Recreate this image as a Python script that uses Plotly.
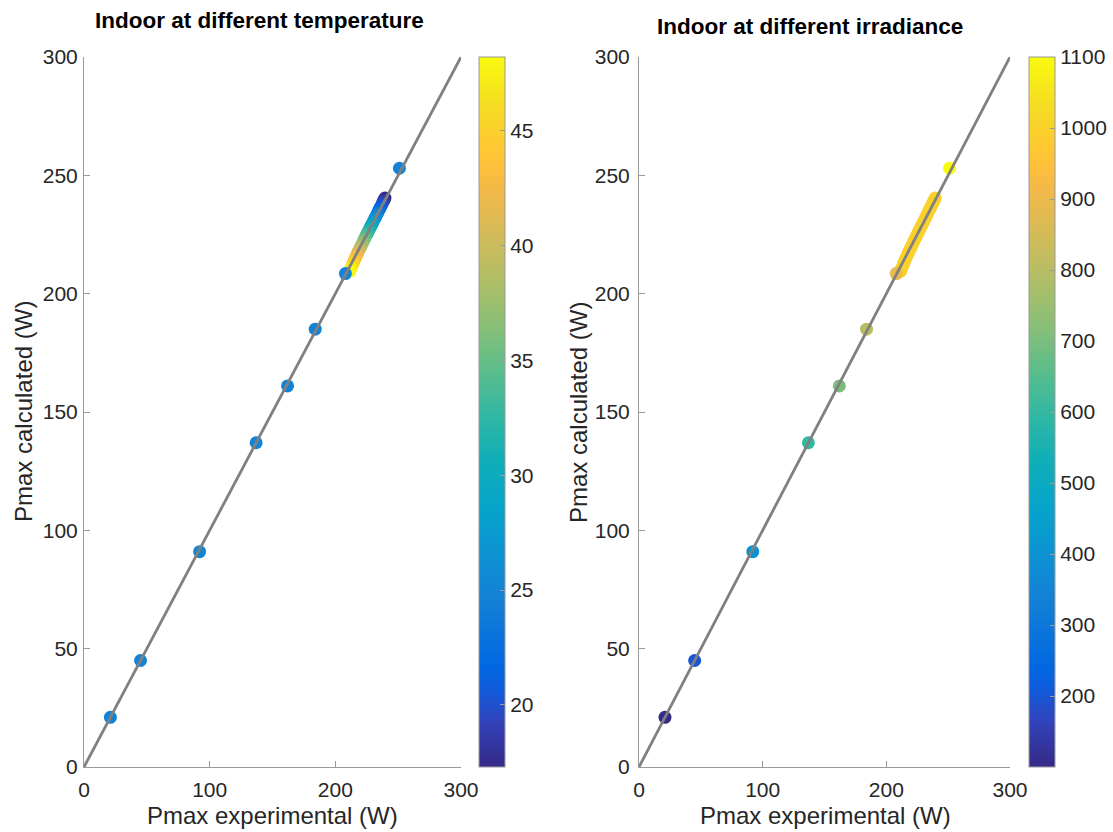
import plotly.graph_objects as go

# ---------------- data ----------------
# Irradiance sweep at 25 degC
irr_G = [100, 200, 400, 600, 700, 800, 900, 1100]
irr_T = [25, 25, 25, 25, 25, 25, 25, 25]
irr_Pexp = [21, 45, 92, 137, 162, 184, 208, 251]
irr_Pcalc = [21, 45, 91, 137, 161, 185, 208.5, 253]

# Temperature sweep at 1000 W/m2
temp_T = [17, 18, 19, 20, 21, 22, 23, 24, 25, 26, 27, 28, 29, 30, 31, 32,
          33, 34, 35, 36, 37, 38, 39, 40, 41, 42, 43, 44, 45, 46, 47, 48]
temp_G = [1000] * 32
temp_Pexp = [239.5, 238.7, 237.6, 236.9, 235.8, 235.0, 234.0, 233.3, 232.2, 231.5,
             230.4, 229.7, 228.6, 227.8, 226.9, 225.9, 225.1, 224.0, 223.2, 222.1,
             221.4, 220.3, 219.5, 218.5, 217.6, 216.8, 215.8, 215.0, 214.1, 213.3,
             212.4, 211.6]
temp_Pcalc = [240.4, 239.5, 238.4, 237.5, 236.5, 235.6, 234.6, 233.7, 232.6, 231.8,
              230.7, 229.9, 228.9, 228.0, 227.0, 226.0, 225.1, 224.0, 223.1, 222.0,
              221.1, 220.0, 219.0, 218.0, 217.0, 216.0, 215.0, 214.0, 212.9, 211.8,
              210.7, 209.5]

line_x = [0, 300]
line_y = [0, 300]

ticks_xy = [0, 100, 200, 300]
ticks_y = [0, 50, 100, 150, 200, 250, 300]
cb1_ticks = [20, 25, 30, 35, 40, 45]
cb2_ticks = [200, 300, 400, 500, 600, 700, 800, 900, 1000, 1100]

# ---------------- style ----------------
parula = [
    [0 / 63, "rgb(53,42,135)"],
    [4 / 63, "rgb(50,67,186)"],
    [7 / 63, "rgb(15,92,221)"],
    [9 / 63, "rgb(2,104,225)"],
    [15 / 63, "rgb(20,129,214)"],
    [19 / 63, "rgb(12,147,210)"],
    [23 / 63, "rgb(6,164,202)"],
    [27 / 63, "rgb(15,174,185)"],
    [31 / 63, "rgb(46,183,164)"],
    [35 / 63, "rgb(89,189,140)"],
    [39 / 63, "rgb(135,191,119)"],
    [43 / 63, "rgb(174,190,103)"],
    [47 / 63, "rgb(209,187,89)"],
    [51 / 63, "rgb(241,185,74)"],
    [53 / 63, "rgb(253,190,61)"],
    [55 / 63, "rgb(254,200,50)"],
    [59 / 63, "rgb(245,222,33)"],
    [63 / 63, "rgb(249,251,14)"],
]

W, H = 1113, 832
FONT = "Liberation Sans, Arial, sans-serif"
TXT = "#262626"
AX = "#9a9a9a"
MS = 13


def fx(px):
    return px / W


def fy(py):
    return 1 - py / H


ax1 = [fx(84), fx(461)]
ax2 = [fx(639), fx(1010)]
ydom = [fy(767), fy(57)]

fig = go.Figure()

# left subplot (temperature colour)
fig.add_trace(go.Scatter(x=temp_Pexp, y=temp_Pcalc, mode="markers",
                         marker=dict(size=MS, color=temp_T, coloraxis="coloraxis"),
                         xaxis="x", yaxis="y", showlegend=False))
fig.add_trace(go.Scatter(x=irr_Pexp, y=irr_Pcalc, mode="markers",
                         marker=dict(size=MS, color=irr_T, coloraxis="coloraxis"),
                         xaxis="x", yaxis="y", showlegend=False))
fig.add_trace(go.Scatter(x=line_x, y=line_y, mode="lines",
                         line=dict(color="#808080", width=2.8),
                         xaxis="x", yaxis="y", showlegend=False))

# right subplot (irradiance colour)
fig.add_trace(go.Scatter(x=temp_Pexp, y=temp_Pcalc, mode="markers",
                         marker=dict(size=MS, color=temp_G, coloraxis="coloraxis2"),
                         xaxis="x2", yaxis="y2", showlegend=False))
fig.add_trace(go.Scatter(x=irr_Pexp, y=irr_Pcalc, mode="markers",
                         marker=dict(size=MS, color=irr_G, coloraxis="coloraxis2"),
                         xaxis="x2", yaxis="y2", showlegend=False))
fig.add_trace(go.Scatter(x=line_x, y=line_y, mode="lines",
                         line=dict(color="#808080", width=2.8),
                         xaxis="x2", yaxis="y2", showlegend=False))

common_axis = dict(
    showgrid=False, zeroline=False, showline=True, linecolor=AX, linewidth=1,
    ticks="inside", ticklen=6, tickcolor=AX, mirror=False,
    tickfont=dict(family=FONT, size=21, color=TXT), automargin=False,
    range=[0, 300],
)

cb_common = dict(
    thickness=26, thicknessmode="pixels", len=(767 - 57) / H, lenmode="fraction",
    y=fy(767), yanchor="bottom", xanchor="left", outlinecolor=AX, outlinewidth=1,
    ticks="inside", ticklen=5, tickcolor=AX,
    tickfont=dict(family=FONT, size=21, color=TXT), xpad=0, ypad=0,
)

fig.update_layout(
    width=W, height=H,
    margin=dict(l=0, r=0, t=0, b=0),
    paper_bgcolor="white", plot_bgcolor="white",
    xaxis=dict(common_axis, domain=ax1, anchor="y", tickvals=ticks_xy, ticklabelstandoff=4),
    yaxis=dict(common_axis, domain=ydom, anchor="x", tickvals=ticks_y, ticklabelstandoff=1),
    xaxis2=dict(common_axis, domain=ax2, anchor="y2", tickvals=ticks_xy, ticklabelstandoff=4),
    yaxis2=dict(common_axis, domain=ydom, anchor="x2", tickvals=ticks_y, ticklabelstandoff=4),
    coloraxis=dict(colorscale=parula, cmin=17.3, cmax=48.2,
                   colorbar=dict(cb_common, x=fx(479), tickvals=cb1_ticks)),
    coloraxis2=dict(colorscale=parula, cmin=100, cmax=1100,
                    colorbar=dict(cb_common, x=fx(1029), tickvals=cb2_ticks)),
    annotations=[
        dict(text="<b>Indoor at different temperature</b>", x=fx(259), y=fy(20),
             xref="paper", yref="paper", showarrow=False, xanchor="center", yanchor="middle",
             font=dict(family=FONT, size=22.5, color="black")),
        dict(text="<b>Indoor at different irradiance</b>", x=fx(810), y=fy(26),
             xref="paper", yref="paper", showarrow=False, xanchor="center", yanchor="middle",
             font=dict(family=FONT, size=22.5, color="black")),
        dict(text="Pmax experimental (W)", x=fx(272), y=fy(815),
             xref="paper", yref="paper", showarrow=False, xanchor="center", yanchor="middle",
             font=dict(family=FONT, size=24, color=TXT)),
        dict(text="Pmax experimental (W)", x=fx(825), y=fy(815),
             xref="paper", yref="paper", showarrow=False, xanchor="center", yanchor="middle",
             font=dict(family=FONT, size=24, color=TXT)),
        dict(text="Pmax calculated (W)", x=fx(23), y=fy(412), textangle=-90,
             xref="paper", yref="paper", showarrow=False, xanchor="center", yanchor="middle",
             font=dict(family=FONT, size=24, color=TXT)),
        dict(text="Pmax calculated (W)", x=fx(578), y=fy(412), textangle=-90,
             xref="paper", yref="paper", showarrow=False, xanchor="center", yanchor="middle",
             font=dict(family=FONT, size=24, color=TXT)),
    ],
)

fig.write_html("out.html", config={"displayModeBar": False},
               post_script="document.body.style.margin='0';document.body.style.overflow='hidden';")
